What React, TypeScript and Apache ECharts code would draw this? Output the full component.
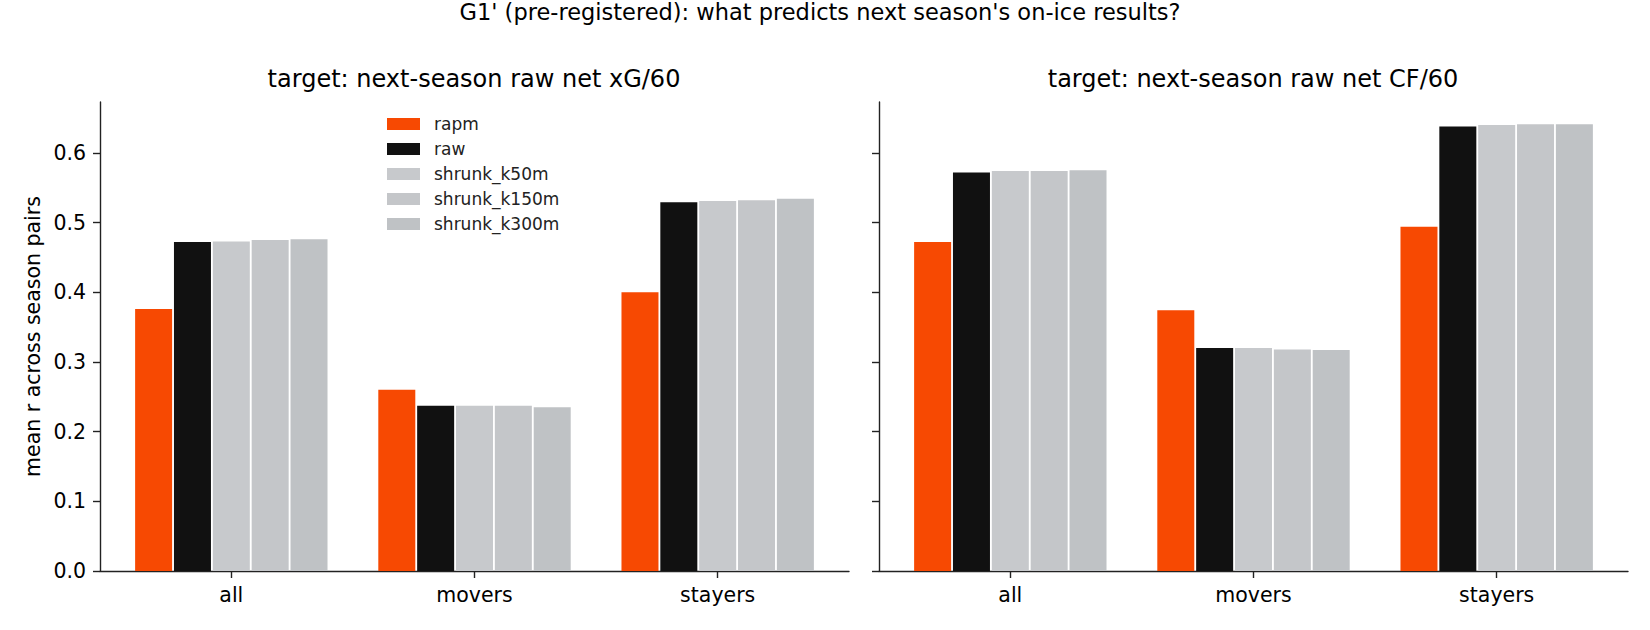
import React, { useEffect, useRef } from "react";
import * as echarts from "echarts";

const groups = ["all", "movers", "stayers"];
const methods = ["rapm", "raw", "shrunk_k50m", "shrunk_k150m", "shrunk_k300m"];
const colors = ["#f74902", "#111111", "#c7c9cc", "#c4c6c9", "#bfc2c5"];

// mean r across season pairs, per method, for groups all / movers / stayers
const xgRapm = [0.376, 0.26, 0.4];
const xgRaw = [0.472, 0.237, 0.529];
const xgK50 = [0.473, 0.237, 0.531];
const xgK150 = [0.475, 0.237, 0.532];
const xgK300 = [0.476, 0.235, 0.534];

const cfRapm = [0.472, 0.374, 0.494];
const cfRaw = [0.572, 0.32, 0.638];
const cfK50 = [0.574, 0.32, 0.64];
const cfK150 = [0.574, 0.318, 0.641];
const cfK300 = [0.575, 0.317, 0.641];

const yTicks = [0, 0.1, 0.2, 0.3, 0.4, 0.5, 0.6];

const xgSeries = [xgRapm, xgRaw, xgK50, xgK150, xgK300];
const cfSeries = [cfRapm, cfRaw, cfK50, cfK150, cfK300];

const font = "DejaVu Sans";
const axisColor = "#222";

const App = () => {
  const chartRef = useRef<HTMLDivElement>(null);

  useEffect(() => {
    if (!chartRef.current) return;
    const chart = echarts.init(chartRef.current, undefined, { renderer: "svg" });

    const xAxisFor = (gridIndex: number) => ({
      type: "value" as const,
      gridIndex,
      min: -0.54,
      max: 2.54,
      splitLine: { show: false },
      axisLine: { onZero: false, lineStyle: { color: axisColor, width: 1.4 } },
      axisTick: {
        customValues: [0, 1, 2],
        length: 7,
        lineStyle: { color: axisColor, width: 1.4 },
      },
      axisLabel: {
        customValues: [0, 1, 2],
        formatter: (v: number) => groups[Math.round(v)] ?? "",
        margin: 13,
        fontSize: 20.5,
        fontFamily: font,
        color: "#000",
      },
    });

    const yAxisFor = (gridIndex: number, labels: boolean) => ({
      type: "value" as const,
      gridIndex,
      min: 0,
      max: 0.673,
      splitLine: { show: false },
      axisLine: { show: true, onZero: false, lineStyle: { color: axisColor, width: 1.4 } },
      axisTick: {
        show: true,
        customValues: yTicks,
        length: 7,
        lineStyle: { color: axisColor, width: 1.4 },
      },
      axisLabel: {
        show: labels,
        customValues: yTicks,
        formatter: (v: number) => v.toFixed(1),
        margin: 14,
        fontSize: 20.5,
        fontFamily: font,
        color: "#000",
      },
      name: labels ? "mean r across season pairs" : "",
      nameLocation: "middle" as const,
      nameGap: 57,
      nameTextStyle: { fontSize: 20.5, fontFamily: font, color: "#000" },
    });

    const barSeries = (data: number[][], gridIdx: number) =>
      data.map((vals, i) => ({
        name: methods[i],
        type: "bar" as const,
        xAxisIndex: gridIdx,
        yAxisIndex: gridIdx,
        barWidth: 37,
        barGap: "5%",
        itemStyle: { color: colors[i] },
        data: vals.map((v, j) => [j, v]),
      }));

    const options: echarts.EChartsOption = {
      animation: false,
      backgroundColor: "#fff",
      title: [
        {
          text: "G1' (pre-registered): what predicts next season's on-ice results?",
          left: 820,
          top: 0,
          padding: 0,
          textAlign: "center",
          textStyle: { fontSize: 22.5, fontWeight: "normal", fontFamily: font, color: "#000" },
        },
        {
          text: "target: next-season raw net xG/60",
          left: 474,
          top: 67,
          padding: 0,
          textAlign: "center",
          textStyle: { fontSize: 24, fontWeight: "normal", fontFamily: font, color: "#000" },
        },
        {
          text: "target: next-season raw net CF/60",
          left: 1253,
          top: 67,
          padding: 0,
          textAlign: "center",
          textStyle: { fontSize: 24, fontWeight: "normal", fontFamily: font, color: "#000" },
        },
      ],
      legend: {
        data: methods,
        orient: "vertical",
        left: 387,
        top: 115,
        padding: 0,
        icon: "rect",
        itemWidth: 33,
        itemHeight: 12,
        itemGap: 7,
        textStyle: {
          fontSize: 17,
          lineHeight: 18,
          fontFamily: font,
          color: "#222",
          padding: [0, 0, 0, 9],
        },
      },
      grid: [
        { left: 100, width: 749, top: 102, bottom: 59 },
        { left: 879, width: 749, top: 102, bottom: 59 },
      ],
      xAxis: [xAxisFor(0), xAxisFor(1)],
      yAxis: [yAxisFor(0, true), yAxisFor(1, false)],
      series: [...barSeries(xgSeries, 0), ...barSeries(cfSeries, 1)],
    };

    chart.setOption(options);
    return () => {
      chart.dispose();
    };
  }, []);

  return (
    <div
      ref={chartRef}
      style={{ position: "fixed", left: 0, top: 0, width: "1650px", height: "630px" }}
    />
  );
};

export default App;
